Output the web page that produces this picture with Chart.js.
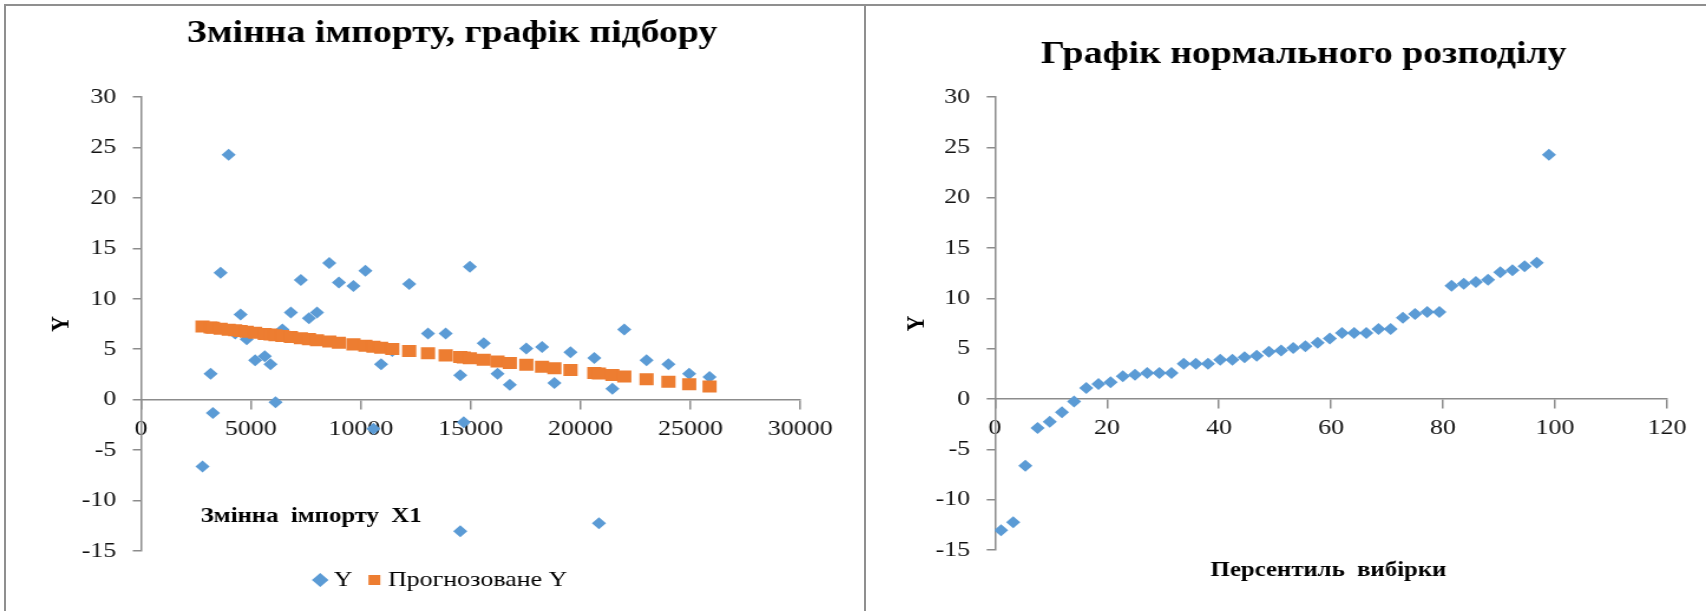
<!DOCTYPE html>
<html lang="uk">
<head>
<meta charset="utf-8">
<title>Змінна імпорту</title>
<script src="https://cdn.jsdelivr.net/npm/chart.js@4.4.1/dist/chart.umd.min.js"></script>
<style>
  html, body { margin: 0; padding: 0; background: #fff; overflow: hidden; }
  .frame { position: absolute; top: 4px; height: 700px; box-sizing: border-box;
           border-top: 2px solid #8f8f8f; border-left: 2px solid #8f8f8f; }
  canvas { position: absolute; top: 0; }
</style>
</head>
<body>
<div class="frame" style="left:4px;width:862px"></div>
<div class="frame" style="left:864px;width:842px"></div>
<canvas id="grafikPidboru" width="732" height="611" style="left:0;width:864px;height:611px"></canvas>
<canvas id="grafikRozpodilu" width="712" height="611" style="left:866px;width:840px;height:611px"></canvas>
<script>
// Змінна імпорту X1 та фактичні значення Y
const importX1 = [2797, 3165, 3270, 3619, 3986, 4283, 4528, 4808, 5192, 5629, 5891, 6119, 6433, 6818, 7272, 7640,
    8007, 8566, 9003, 9667, 10209, 10576, 10926, 11432, 12202, 13058, 13862, 14527, 14527, 14685, 14964, 15593,
    16222, 16781, 17533, 18250, 18809, 19543, 20627, 20837, 21449, 21991, 23005, 24001, 24945, 25872];
const importY = [-6.62, 2.58, -1.32, 12.58, 24.27, 6.56, 8.44, 6.0, 3.9, 4.3, 3.51, -0.26, 6.95, 8.64, 11.85, 8.08,
    8.64, 13.54, 11.62, 11.26, 12.78, -2.88, 3.51, 4.83, 11.46, 6.56, 6.56, 2.42, -13.05, -2.25, 13.18, 5.6,
    2.58, 1.49, 5.07, 5.23, 1.66, 4.7, 4.14, -12.25, 1.09, 6.95, 3.9, 3.51, 2.58, 2.25];
// Прогнозоване Y
const forecastY = [7.25, 7.15, 7.13, 7.04, 6.94, 6.87, 6.80, 6.73, 6.63, 6.52, 6.45, 6.39, 6.31, 6.21, 6.09, 6.00,
    5.90, 5.76, 5.65, 5.48, 5.34, 5.24, 5.15, 5.02, 4.82, 4.60, 4.39, 4.22, 4.22, 4.18, 4.11, 3.95,
    3.78, 3.64, 3.45, 3.26, 3.12, 2.93, 2.65, 2.59, 2.44, 2.30, 2.03, 1.78, 1.53, 1.30];

// Графік нормального розподілу
const percentile = [1.09, 3.26, 5.43, 7.61, 9.78, 11.96, 14.13, 16.30, 18.48, 20.65, 22.83, 25.00, 27.17, 29.35,
    31.52, 33.70, 35.87, 38.04, 40.22, 42.39, 44.57, 46.74, 48.91, 51.09, 53.26, 55.43, 57.61, 59.78, 61.96,
    64.13, 66.30, 68.48, 70.65, 72.83, 75.00, 77.17, 79.35, 81.52, 83.70, 85.87, 88.04, 90.22, 92.39, 94.57,
    96.74, 98.91];
const sortedY = [-13.05, -12.25, -6.62, -2.88, -2.25, -1.32, -0.26, 1.09, 1.49, 1.66, 2.25, 2.42, 2.58, 2.58,
    2.58, 3.51, 3.51, 3.51, 3.9, 3.9, 4.14, 4.3, 4.7, 4.83, 5.07, 5.23, 5.6, 6.0, 6.56, 6.56, 6.56, 6.95, 6.95,
    8.08, 8.44, 8.64, 8.64, 11.26, 11.46, 11.62, 11.85, 12.58, 12.78, 13.18, 13.54, 24.27];

const yTicks = [-15, -10, -5, 0, 5, 10, 15, 20, 25, 30];
const importTicks = [0, 5000, 10000, 15000, 20000, 25000, 30000];
const percentileTicks = [0, 20, 40, 60, 80, 100, 120];

const blue = '#5b9bd5';
const orange = '#ed7d31';
const axisGrey = '#8c8c8c';
const serif = "'Liberation Serif', 'Times New Roman', serif";

// підписи, які Excel розміщує вручну
const freeText = {
    id: 'freeText',
    afterLayout(chart, args, opts) {
        // легенда в Excel трохи лівіше центру
        if (opts.legendShift && chart.legend) {
            chart.legend.left += opts.legendShift;
            chart.legend.right += opts.legendShift;
        }
    },
    afterDraw(chart, args, opts) {
        const ctx = chart.ctx;
        ctx.save();
        ctx.fillStyle = '#000';
        ctx.textBaseline = 'alphabetic';
        opts.items.forEach(t => {
            ctx.font = t.font;
            ctx.textAlign = t.align;
            ctx.fillText(t.text, t.x, t.y);
        });
        ctx.restore();
    }
};

function toPoints(xs, ys) {
    return xs.map((x, i) => ({ x: x, y: ys[i] }));
}

function makeScales(xMax, xTicks, leftWidth, yTitlePad) {
    const tickFont = { family: serif, size: 22 };
    return {
        x: {
            type: 'linear',
            position: { y: 0 },
            min: 0,
            max: xMax,
            afterBuildTicks: s => { s.ticks = xTicks.map(v => ({ value: v })); },
            grid: { display: true, drawOnChartArea: false, drawTicks: true, tickLength: 9, color: axisGrey, lineWidth: 1.5 },
            border: { display: true, color: axisGrey, width: 1.5 },
            ticks: { font: tickFont, color: '#111', padding: 7, maxRotation: 0, autoSkip: false, callback: v => String(v) }
        },
        y: {
            type: 'linear',
            min: -15,
            max: 30,
            afterBuildTicks: s => { s.ticks = yTicks.map(v => ({ value: v })); },
            afterFit: s => { s.width = leftWidth; },
            grid: { display: true, drawOnChartArea: false, drawTicks: true, tickLength: 7, color: axisGrey, lineWidth: 1.5 },
            border: { display: true, color: axisGrey, width: 1.5 },
            ticks: { font: tickFont, color: '#111', padding: 14, callback: v => String(v) },
            title: {
                display: true, text: 'Y', color: '#000',
                font: { family: serif, size: 22, weight: 'bold' },
                padding: { top: yTitlePad, bottom: 0 }
            }
        }
    };
}

new Chart(document.getElementById('grafikPidboru'), {
    type: 'scatter',
    data: {
        datasets: [{
            label: 'Y',
            data: toPoints(importX1, importY),
            pointStyle: 'rectRot',
            pointRadius: 6,
            backgroundColor: blue,
            borderColor: blue,
            borderWidth: 0,
            order: 2
        }, {
            label: 'Прогнозоване Y',
            data: toPoints(importX1, forecastY),
            pointStyle: 'rect',
            pointRadius: 8.5,
            backgroundColor: orange,
            borderColor: orange,
            borderWidth: 0,
            order: 1
        }]
    },
    options: {
        responsive: false,
        animation: false,
        devicePixelRatio: 1,
        layout: { padding: { top: 97, right: 54, bottom: 10, left: 0 } },
        scales: makeScales(30000, importTicks, 119.5, 39),
        plugins: {
            tooltip: { enabled: false },
            legend: {
                position: 'bottom',
                fullSize: false,
                labels: {
                    usePointStyle: true,
                    boxWidth: 1,
                    boxHeight: 10,
                    padding: 18,
                    color: '#000',
                    font: { family: serif, size: 22 },
                    sort: (a, b) => a.datasetIndex - b.datasetIndex
                }
            },
            freeText: {
                legendShift: -23,
                items: [
                    { text: 'Змінна імпорту, графік підбору', x: 383, y: 42, align: 'center', font: 'bold 32px ' + serif },
                    { text: 'Змінна  імпорту  X1', x: 170, y: 522, align: 'left', font: 'bold 21px ' + serif }
                ]
            }
        }
    },
    plugins: [freeText]
});

new Chart(document.getElementById('grafikRozpodilu'), {
    type: 'scatter',
    data: {
        datasets: [{
            label: 'Y',
            data: toPoints(percentile, sortedY),
            pointStyle: 'rectRot',
            pointRadius: 6,
            backgroundColor: blue,
            borderColor: blue,
            borderWidth: 0
        }]
    },
    options: {
        responsive: false,
        animation: false,
        devicePixelRatio: 1,
        layout: { padding: { top: 97, right: 33, bottom: 61, left: 0 } },
        scales: makeScales(120, percentileTicks, 109.3, 30),
        plugins: {
            tooltip: { enabled: false },
            legend: { display: false },
            freeText: {
                items: [
                    { text: 'Графік нормального розподілу', x: 371, y: 63, align: 'center', font: 'bold 32px ' + serif },
                    { text: 'Персентиль  вибірки', x: 392, y: 576, align: 'center', font: 'bold 21px ' + serif }
                ]
            }
        }
    },
    plugins: [freeText]
});
</script>
</body>
</html>
